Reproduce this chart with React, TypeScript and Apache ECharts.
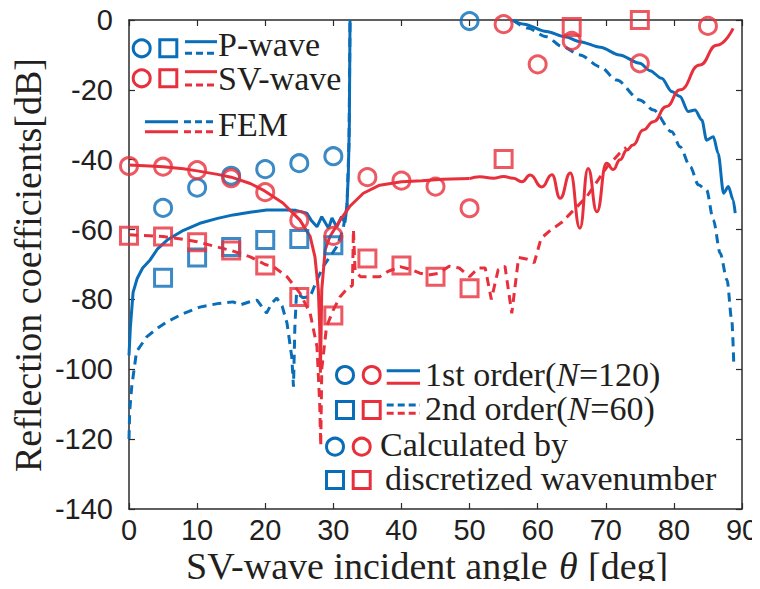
import React, { useEffect, useRef } from "react";
import * as echarts from "echarts";

const BLUE = "#0a6db8";
const RED = "#e8303c";
const AXIS = "#2b2b2b";

// x-axis / y-axis ticks
const xTicks = [0, 10, 20, 30, 40, 50, 60, 70, 80, 90];
const yTicks = [-140, -120, -100, -80, -60, -40, -20, 0];

// FEM, P-wave, 1st order (solid blue) — two visible pieces
const pSolidAX = [0, 0.2, 0.6, 1.2, 2, 3.1, 4.2, 5.6, 8, 10.4, 13, 15.3, 18, 20.2, 23, 24.5, 26.1, 26.8, 27.6, 28.3, 29.3, 29.8, 30.5, 31.2, 31.7, 32, 32.2, 32.35, 32.45];
const pSolidAY = [-96, -88, -78, -74, -71, -68.7, -65.5, -63, -60.2, -58.2, -56.8, -55.8, -55, -54.4, -54.4, -54.5, -55.3, -57.5, -59.2, -56.3, -59.6, -56.7, -59.3, -56.3, -58, -53.4, -44, -30, 0];
const pSolidBX = [56.2, 58, 61.3, 64, 66.2, 69.2, 72, 75, 76.5, 78.2, 79.7, 80.9, 82.1, 83.1, 84.1, 84.8, 85.8, 86.5, 87.3, 88, 88.7, 89];
const pSolidBY = [0, -1.2, -3.3, -4.8, -6.2, -7.8, -10, -12.4, -14.5, -16.7, -20.5, -21.9, -26.2, -25.8, -28.6, -34.4, -33.4, -38.2, -49.6, -47.7, -51.5, -55.3];

// FEM, P-wave, 2nd order (dashed blue)
const pDashAX = [0, 0.1, 0.4, 1.1, 2.6, 4, 5.5, 8, 10.4, 13, 15.3, 16.3, 17.5, 18.8, 20.2, 21, 21.7, 22.5, 23.2, 23.9, 24.15, 24.35, 24.6, 25.5, 26.6, 27.6, 28.5, 29.5, 30.5, 31.4, 32, 32.3, 32.45];
const pDashAY = [-120, -112, -105, -95, -90.7, -88.5, -86.5, -84, -82.2, -81.2, -80.7, -81.6, -80.8, -80.2, -83.9, -81, -79.6, -82, -86.8, -96.5, -105, -88, -78, -79.5, -79.2, -74.4, -70.6, -67.8, -64.9, -60.1, -53.4, -35, 0];
const pDashBX = [56.4, 58.5, 61.3, 63.5, 66.2, 69.2, 71.6, 75, 77, 79.7, 80.9, 82.4, 83.6, 84.8, 85.8, 86.8, 87.8, 88.5, 88.8];
const pDashBY = [0, -2.3, -4.8, -7.5, -10, -13.4, -17.2, -22.9, -25.8, -32, -36.3, -42, -47.2, -48.7, -57.3, -66.8, -74.4, -85.9, -99];

// FEM, SV-wave, 1st order (solid red): up to 50 deg, then the oscillating part
const svSolidAX = [0, 3, 5, 8, 10, 13, 15, 17.8, 19.7, 22.6, 25.1, 26.6, 27.3, 27.8, 28.0, 28.1, 28.2, 28.3, 28.8, 29.5, 31, 32.4, 34.4, 36.8, 40, 43, 46, 50];
const svSolidAY = [-41.5, -41.8, -42, -42.6, -43.2, -44.2, -45, -46.8, -48.7, -52.4, -57.3, -62, -67.8, -77.3, -88, -101, -90, -77.3, -65.8, -62, -57.3, -53.4, -49.6, -47.3, -46.3, -46, -45.6, -45.4];
const svSolidBX = [50, 51.5, 53.5, 55, 56.4, 57.7, 58.9, 60.6, 62.1, 63.3, 64.8, 66.2, 67.4, 68.7, 70.1, 71.1, 72.1, 73.1, 74, 75.5, 77, 78.9, 80.9, 83.8, 86.3, 88.7];
const svSolidBY = [-45.4, -44.9, -45.3, -44.8, -45.3, -46.3, -44.4, -47.8, -44.3, -51, -43.8, -59.6, -42.5, -54.9, -41, -42.8, -40, -37.2, -35.8, -31.5, -29.1, -24.8, -20, -12.9, -7.2, -2.4];

// FEM, SV-wave, 2nd order (dashed red)
const svDashX = [0, 3, 5, 8, 10, 13, 15, 17.8, 20, 21.2, 23.2, 25.1, 26.6, 27.6, 28.0, 28.15, 28.3, 29, 30, 31, 32, 32.8, 32.95, 33.2, 34, 36.8, 38, 39.8, 41.5, 42.7, 44, 45.5, 47, 48.5, 50, 51.3, 52.3, 53.2, 54.2, 55.2, 56.2, 57.2, 58.5, 59.5, 60.5, 62, 63.5, 65.5, 67.2, 70.2, 72, 73];
const svDashY = [-61.5, -61.8, -62, -62.8, -63.5, -65, -66, -67.8, -70, -70.6, -73.5, -78.2, -84, -93.5, -110, -122, -100, -87.8, -83, -79.2, -77, -76, -60, -72, -73.5, -73.5, -72, -70.6, -71.5, -72.5, -73, -72.5, -70.5, -71, -73.5, -71, -71, -80, -71.5, -70.5, -84, -68, -68.5, -69.5, -62.5, -60, -58, -54, -50.6, -42, -38.2, -36.5];

// Calculated by discretized wavenumber
const pCircX = [5, 10, 15, 20, 25, 30, 50];
const pCircY = [-53.8, -48, -44.6, -42.7, -41, -39, -0.3];
const pSqX = [5, 10, 15, 20, 25, 30];
const pSqY = [-73.8, -68, -65, -63, -62.7, -64.5];
const svCircX = [0, 5, 10, 15, 20, 25, 30, 35, 40, 45, 50, 55, 60, 65, 75, 85];
const svCircY = [-41.8, -42, -43, -45.3, -49.3, -57.3, -61.8, -45, -46, -47.7, -53.9, -1.2, -12.7, -6, -12.4, -1.7];
const svSqX = [0, 5, 10, 15, 20, 25, 30, 35, 40, 45, 50, 55, 65, 75];
const svSqY = [-61.8, -62, -63.6, -66, -70.3, -79.3, -84.6, -68.3, -70.3, -73.5, -76.8, -39.8, -2, 0];

const zip = (xs: number[], ys: number[]) => xs.map((x, i) => [x, ys[i]]);

const SERIF = "'Liberation Serif', 'Times New Roman', serif";
const SANS = "'Liberation Sans', Arial, Helvetica, sans-serif";
const INK = "#231f20";

function lineSeries(name: string, xs: number[], ys: number[], color: string, dashed: boolean, smooth: number | boolean = false) {
  return {
    name,
    type: "line",
    data: zip(xs, ys),
    showSymbol: false,
    symbol: "none",
    smooth,
    smoothMonotone: "x",
    lineStyle: { color, width: 3, type: dashed ? [9, 6] : "solid", cap: "butt" },
    z: 2,
  };
}

function markerSeries(name: string, xs: number[], ys: number[], color: string, symbol: string, size: number) {
  return {
    name,
    type: "scatter",
    data: zip(xs, ys),
    symbol,
    symbolSize: size,
    itemStyle: { color: "rgba(255,255,255,0)", borderColor: color, borderWidth: 3 },
    z: 3,
  };
}

function legendGraphics() {
  const g: any[] = [];
  const circ = (cx: number, cy: number, color: string) =>
    g.push({ type: "circle", shape: { cx, cy, r: 8.5 }, style: { fill: "none", stroke: color, lineWidth: 3 }, z: 10 });
  const sq = (cx: number, cy: number, color: string) =>
    g.push({ type: "rect", shape: { x: cx - 8.5, y: cy - 8.5, width: 17, height: 17 }, style: { fill: "none", stroke: color, lineWidth: 3 }, z: 10 });
  const ln = (x1: number, x2: number, y: number, color: string, dashed: boolean) =>
    g.push({ type: "line", shape: { x1, y1: y, x2, y2: y }, style: { stroke: color, lineWidth: 3, lineDash: dashed ? [7, 4] : null }, z: 10 });
  const txt = (x: number, y: number, text: string, rich?: any) =>
    g.push({
      type: "text",
      x,
      y,
      z: 10,
      style: { text, fontFamily: SERIF, fontSize: 34, lineHeight: 27, fill: INK, align: "left", verticalAlign: "middle", rich },
    });
  const richN = { i: { fontFamily: SERIF, fontSize: 34, lineHeight: 27, fontStyle: "italic", fill: INK } };

  // top-left legend
  circ(141.7, 48.3, BLUE); sq(168.3, 48.3, BLUE); ln(185, 217, 41.7, BLUE, false); ln(185, 217, 53.3, BLUE, true);
  txt(218, 44, "P-wave");
  circ(141.7, 78.3, RED); sq(168.3, 78.3, RED); ln(185, 217, 71.7, RED, false); ln(185, 217, 85, RED, true);
  txt(218, 78, "SV-wave");
  ln(145, 178, 121.7, BLUE, false); ln(145, 178, 131.7, RED, false);
  ln(184, 217, 121.7, BLUE, true); ln(184, 217, 131.7, RED, true);
  txt(218, 124, "FEM");

  // bottom-right legend
  circ(345, 375, BLUE); circ(371.7, 375, RED); ln(386.7, 420, 370.7, BLUE, false); ln(386.7, 420, 383.3, RED, false);
  txt(425, 374.5, "1st order({i|N}=120)", richN);
  sq(345, 410, BLUE); sq(371.7, 410, RED); ln(386.7, 420, 405, BLUE, true); ln(386.7, 420, 413.3, RED, true);
  txt(425, 408.5, "2nd order({i|N}=60)", richN);
  circ(335, 446.7, BLUE); circ(361.7, 446.7, RED);
  txt(380, 444.5, "Calculated by");
  sq(335, 480, BLUE); sq(361.7, 480, RED);
  txt(385, 478.5, "discretized wavenumber");

  // x-axis title: three pieces so that theta is italic
  const TY = 566;
  const titleStyle = { fontFamily: SERIF, fontSize: 38, lineHeight: 28, fill: INK, align: "left", verticalAlign: "middle" };
  g.push({ type: "text", x: 186, y: TY, z: 10, style: { ...titleStyle, text: "SV-wave incident angle" } });
  g.push({ type: "text", x: 559, y: TY, z: 10, style: { ...titleStyle, text: "θ", fontStyle: "italic" } });
  g.push({ type: "text", x: 588, y: TY, z: 10, style: { ...titleStyle, text: "[deg]" } });
  g.push({
    type: "text",
    x: 28,
    y: 265,
    rotation: Math.PI / 2,
    z: 10,
    style: {
      text: "Reflection coefficients[dB]",
      fontFamily: SERIF,
      fontSize: 38,
      fill: INK,
      align: "center",
      verticalAlign: "middle",
    },
  });
  return g;
}

export default function App() {
  const ref = useRef<HTMLDivElement>(null);
  useEffect(() => {
    if (!ref.current) return;
    const chart = echarts.init(ref.current, null, { renderer: "svg" });
    const axisCommon = {
      type: "value",
      axisLine: { show: true, onZero: false, lineStyle: { color: AXIS, width: 1.5 } },
      axisTick: { show: true, inside: true, length: 6, lineStyle: { color: AXIS, width: 1.2 } },
      splitLine: { show: false },
    };
    chart.setOption({
      animation: false,
      backgroundColor: "#ffffff",
      grid: { left: 129, right: 18, top: 20, bottom: 80, containLabel: false, outerBoundsMode: "none" },
      xAxis: [
        {
          ...axisCommon,
          position: "bottom",
          min: xTicks[0],
          max: xTicks[xTicks.length - 1],
          interval: 10,
          axisLabel: { show: true, fontFamily: SANS, fontSize: 29, lineHeight: 26, color: INK, margin: 8, showMinLabel: true, showMaxLabel: true },
        },
        {
          ...axisCommon,
          position: "top",
          min: xTicks[0],
          max: xTicks[xTicks.length - 1],
          interval: 10,
          axisLabel: { show: false },
        },
      ],
      yAxis: [
        {
          ...axisCommon,
          position: "left",
          min: yTicks[0],
          max: yTicks[yTicks.length - 1],
          interval: 20,
          axisLabel: { show: true, fontFamily: SANS, fontSize: 29, color: INK, margin: 16, showMinLabel: true, showMaxLabel: true },
        },
        {
          ...axisCommon,
          position: "right",
          min: yTicks[0],
          max: yTicks[yTicks.length - 1],
          interval: 20,
          axisLabel: { show: false },
        },
      ],
      series: [
        lineSeries("P 1st FEM a", pSolidAX, pSolidAY, BLUE, false),
        lineSeries("P 1st FEM b", pSolidBX, pSolidBY, BLUE, false, 0.3),
        lineSeries("P 2nd FEM a", pDashAX, pDashAY, BLUE, true),
        lineSeries("P 2nd FEM b", pDashBX, pDashBY, BLUE, true, 0.3),
        lineSeries("SV 1st FEM a", svSolidAX, svSolidAY, RED, false),
        lineSeries("SV 1st FEM b", svSolidBX, svSolidBY, RED, false, 0.5),
        lineSeries("SV 2nd FEM", svDashX, svDashY, RED, true),
        markerSeries("P 1st calc", pCircX, pCircY, BLUE, "circle", 17),
        markerSeries("P 2nd calc", pSqX, pSqY, BLUE, "rect", 17),
        markerSeries("SV 1st calc", svCircX, svCircY, RED, "circle", 17),
        markerSeries("SV 2nd calc", svSqX, svSqY, RED, "rect", 17),
      ],
      graphic: legendGraphics(),
    });
    return () => chart.dispose();
  }, []);
  return <div ref={ref} style={{ width: 760, height: 589, margin: -8 }} />;
}
